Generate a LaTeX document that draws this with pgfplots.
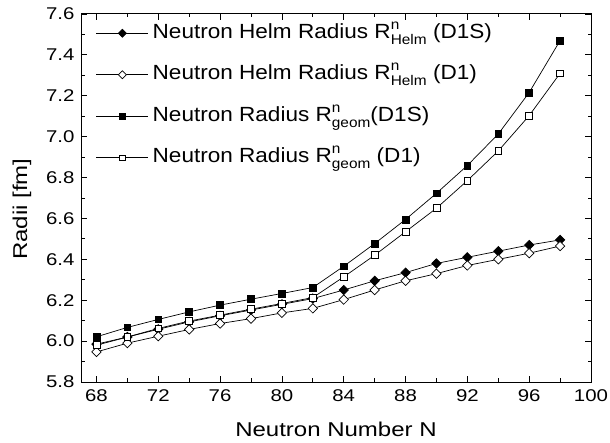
\documentclass[border=0pt]{standalone}
\usepackage{fontspec}
\setmainfont{Liberation Sans}[FakeStretch=1.2]
\newfontfamily\legfont{Liberation Sans}[FakeStretch=1.1]
\usepackage{pgfplots}
\pgfplotsset{compat=1.18}
\usepackage{pgfplotstable}

\pgfplotstableread{
N y
68 5.985
70 6.020
72 6.058
74 6.094
76 6.124
78 6.152
80 6.180
82 6.208
84 6.250
86 6.295
88 6.335
90 6.380
92 6.410
94 6.440
96 6.470
98 6.495
}\helmDIS
\pgfplotstableread{
N y
68 5.947
70 5.990
72 6.024
74 6.057
76 6.086
78 6.110
80 6.138
82 6.160
84 6.203
86 6.250
88 6.295
90 6.330
92 6.370
94 6.400
96 6.430
98 6.465
}\helmDI
\pgfplotstableread{
N y
68 6.021
70 6.067
72 6.106
74 6.143
76 6.176
78 6.205
80 6.233
82 6.262
84 6.366
86 6.477
88 6.595
90 6.723
92 6.859
94 7.013
96 7.216
98 7.470
}\geomDIS
\pgfplotstableread{
N y
68 5.980
70 6.020
72 6.062
74 6.098
76 6.127
78 6.156
80 6.184
82 6.213
84 6.314
86 6.420
88 6.535
90 6.650
92 6.785
94 6.930
96 7.103
98 7.310
}\geomDI

\newcommand{\Rsub}[2]{R\rlap{\raisebox{9bp}{\fontsize{14bp}{14bp}\selectfont #1}}\raisebox{-6bp}{\fontsize{14bp}{14bp}\selectfont #2}}

\begin{document}
\begin{tikzpicture}
\useasboundingbox (-81bp,-61bp) rectangle (529bp,382bp);
\begin{axis}[
  at={(0,0)}, anchor=south west,
  scale only axis, width=510bp, height=368bp,
  xmin=67, xmax=100, ymin=5.8, ymax=7.6,
  xtick={68,72,...,100}, minor x tick num=1,
  ytick={5.8,6.0,...,7.6}, minor y tick num=1,
  scaled ticks=false,
  tick align=inside,
  major tick length=6bp, minor tick length=3.5bp,
  axis line style={line width=1bp},
  every tick/.style={black, line width=0.8bp},
  /pgf/number format/assume math mode=true,
  ticklabel style={font=\fontsize{17bp}{19bp}\selectfont},
  yticklabel style={/pgf/number format/fixed, /pgf/number format/fixed zerofill, /pgf/number format/precision=1, xshift=-3bp},
  xticklabel style={yshift=-4bp},
  xlabel={Neutron Number N},
  ylabel={Radii [fm]},
  label style={font=\fontsize{20bp}{23bp}\selectfont},
  xlabel style={at={(rel axis cs:0.5,-0.1087)}, anchor=north, inner sep=0pt},
  ylabel style={at={(rel axis cs:-0.1157,0.47)}, anchor=center, inner sep=0pt},
  legend cell align=left,
  legend style={draw=none, fill=none, at={(rel axis cs:0.029,0.978)}, anchor=north west,
    font=\legfont\fontsize{20.5bp}{23bp}\selectfont, row sep=19.5bp, inner sep=0pt,
    nodes={inner sep=0pt, text height=16bp, text depth=6bp}},
  legend image code/.code={\draw[mark repeat=2,mark phase=2, mark size=2.8bp] plot coordinates {(0bp,0bp) (26bp,0bp) (52bp,0bp)};},
  every axis plot/.append style={black, line width=0.7bp},
]
\addplot[mark=square*, mark size=3.3bp, mark options={rotate=45, fill=black, solid}] table[x=N,y=y] {\helmDIS};
\addlegendentry{\hspace{4bp}Neutron Helm Radius \Rsub{n}{Helm} (D1S)}
\addplot[mark=square*, mark size=3.3bp, mark options={rotate=45, fill=white, solid}] table[x=N,y=y] {\helmDI};
\addlegendentry{\hspace{4bp}Neutron Helm Radius \Rsub{n}{Helm} (D1)}
\addplot[mark=square*, mark size=3.4bp, mark options={fill=black, solid}] table[x=N,y=y] {\geomDIS};
\addlegendentry{\hspace{4bp}Neutron Radius \Rsub{n}{geom}(D1S)}
\addplot[mark=square*, mark size=3.4bp, mark options={fill=white, solid}] table[x=N,y=y] {\geomDI};
\addlegendentry{\hspace{4bp}Neutron Radius \Rsub{n}{geom} (D1)}
\end{axis}
\end{tikzpicture}
\end{document}
